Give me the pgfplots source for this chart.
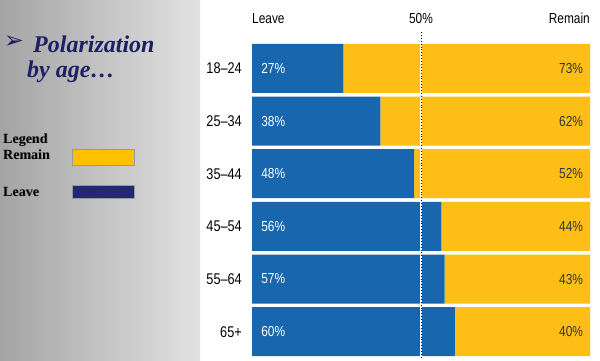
\documentclass[border=0pt]{standalone}
\usepackage{fontspec}
\setmainfont{Liberation Serif}
\newfontfamily\cond[FakeStretch=0.82]{Liberation Sans}
\newfontfamily\dejavu{DejaVu Sans}
\usepackage{pgfplots}
\pgfplotsset{compat=1.18}
\definecolor{leaveblue}{HTML}{1766AE}
\definecolor{remainyellow}{HTML}{FDBE16}
\definecolor{navy}{HTML}{1F1F66}
\definecolor{legyellow}{HTML}{FFC000}
\definecolor{legnavy}{HTML}{262673}
\definecolor{legborder}{HTML}{8A9E9E}
\definecolor{gradL}{HTML}{A4A4A4}
\definecolor{gradR}{HTML}{E2E2E2}
\begin{document}
\begin{tikzpicture}[x=1pt,y=1pt]
\useasboundingbox (0,0) rectangle (600,360);
\fill[white] (0,0) rectangle (600,360);
\shade[left color=gradL, right color=gradR] (0,0) rectangle (200,360);
% title
\node[anchor=center, inner sep=0, text=navy, font=\dejavu\fontsize{24}{24}\selectfont] at (14,318) {➢};
\node[anchor=base west, inner sep=0, text=navy, font=\bfseries\itshape\fontsize{24}{24}\selectfont] at (33,308) {Polarization};
\node[anchor=base west, inner sep=0, text=navy, font=\bfseries\itshape\fontsize{24}{24}\selectfont] at (27,283) {by age…};
% legend
\foreach \t/\yy in {Legend/217, Remain/201, Leave/164}{
  \node[anchor=base west, inner sep=0, text=black!45, font=\bfseries\fontsize{14}{14}\selectfont] at (3.8,\yy-0.8) {\t};
  \node[anchor=base west, inner sep=0, text=black, font=\bfseries\fontsize{14}{14}\selectfont] at (3,\yy) {\t};
}
\draw[legborder, fill=legyellow, line width=1pt] (72,195) rectangle (134,211);
\draw[legborder, fill=legnavy, line width=1pt] (72,162) rectangle (134,175);
% top labels
\node[anchor=base west, inner sep=0, font=\cond\fontsize{14.5}{14.5}\selectfont] at (252,337) {Leave};
\node[anchor=base, inner sep=0, font=\cond\fontsize{14.5}{14.5}\selectfont] at (421,337) {50\%};
\node[anchor=base east, inner sep=0, font=\cond\fontsize{14.5}{14.5}\selectfont] at (590,337) {Remain};
\begin{axis}[
  at={(252pt,2pt)}, anchor=south west,
  scale only axis, width=338pt, height=316pt,
  xbar stacked, bar width=49pt,
  xmin=0, xmax=100, ymin=-0.5, ymax=5.5, y dir=reverse,
  axis line style={draw=none},
  xtick=\empty,
  ytick={0,1,2,3,4,5},
  yticklabels={18–24,25–34,35–44,45–54,55–64,65+},
  major tick length=0pt,
  yticklabel style={font=\cond\fontsize{15.5}{15.5}\selectfont, inner sep=0pt, anchor=east, xshift=-10pt},
  clip=false,
]
\addplot[fill=leaveblue, draw=none] coordinates {(27,0) (38,1) (48,2) (56,3) (57,4) (60,5)};
\addplot[fill=remainyellow, draw=none] coordinates {(73,0) (62,1) (52,2) (44,3) (43,4) (40,5)};
\end{axis}
\begin{axis}[
  at={(252pt,2pt)}, anchor=south west,
  scale only axis, width=338pt, height=316pt,
  xmin=0, xmax=100, ymin=-0.5, ymax=5.5, y dir=reverse,
  hide axis, clip=false,
  /pgf/number format/assume math mode=true,
]
\draw[white, line width=1.8pt] (axis cs:50,-0.5) -- (axis cs:50,5.5);
\draw[black, dotted, line width=0.9pt] (axis cs:50,-0.69) -- (axis cs:50,5.5);
\addplot[draw=none, mark=none, point meta=explicit, nodes near coords={\pgfmathprintnumber{\pgfplotspointmeta}\%},
  every node near coord/.append style={anchor=west, inner sep=0pt, text=white, font=\cond\fontsize{14.5}{14.5}\selectfont}]
  coordinates {(2.7,0) [27] (2.7,1) [38] (2.7,2) [48] (2.7,3) [56] (2.7,4) [57] (2.7,5) [60]};
\addplot[draw=none, mark=none, point meta=explicit, nodes near coords={\pgfmathprintnumber{\pgfplotspointmeta}\%},
  every node near coord/.append style={anchor=east, inner sep=0pt, text=black!80, font=\cond\fontsize{14.5}{14.5}\selectfont}]
  coordinates {(98,0) [73] (98,1) [62] (98,2) [52] (98,3) [44] (98,4) [43] (98,5) [40]};
\end{axis}
\end{tikzpicture}
\end{document}
